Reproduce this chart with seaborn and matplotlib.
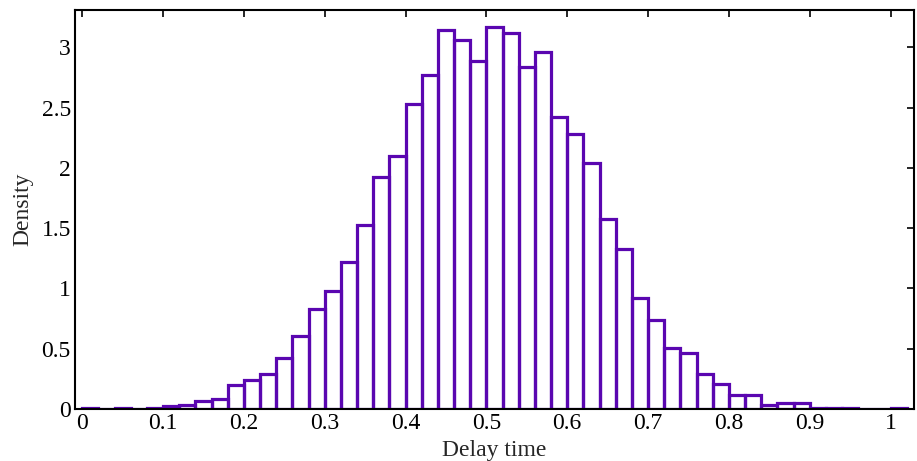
import numpy as np
import matplotlib
matplotlib.use("Agg")
import matplotlib.pyplot as plt
import seaborn as sns

# Bin edges (width 0.02) and density heights
bin_edges = [round(0.02 * i, 2) for i in range(52)]
densities = [
    0.010, 0.003, 0.010, 0.003, 0.010, 0.022, 0.036, 0.069, 0.083, 0.196,
    0.243, 0.287, 0.426, 0.608, 0.829, 0.978, 1.219, 1.528, 1.924, 2.100,
    2.529, 2.772, 3.140, 3.062, 2.888, 3.167, 3.120, 2.833, 2.960, 2.421,
    2.280, 2.040, 1.578, 1.329, 0.920, 0.735, 0.506, 0.464, 0.287, 0.210,
    0.116, 0.116, 0.036, 0.050, 0.050, 0.011, 0.011, 0.011, 0.001, 0.003,
    0.010,
]
bin_centers = [(bin_edges[i] + bin_edges[i + 1]) / 2 for i in range(len(densities))]
x_ticks = [0, 0.1, 0.2, 0.3, 0.4, 0.5, 0.6, 0.7, 0.8, 0.9, 1]
x_tick_labels = ["0", "0.1", "0.2", "0.3", "0.4", "0.5", "0.6", "0.7", "0.8", "0.9", "1"]
y_ticks = [0, 0.5, 1, 1.5, 2, 2.5, 3]
y_tick_labels = ["0", "0.5", "1", "1.5", "2", "2.5", "3"]

sns.set_style("white")
plt.rcParams["font.family"] = ["Liberation Serif", "DejaVu Serif"]

fig = plt.figure(figsize=(9.17, 4.61), dpi=100)
ax = fig.add_axes([75 / 917, 1 - 409 / 461, (914 - 75) / 917, (409 - 10) / 461])

sns.histplot(x=bin_centers, weights=densities, bins=bin_edges, stat="count",
             element="bars", fill=False, color="#5a06b0", linewidth=2.3,
             ax=ax)

ax.set_xlim(-0.009, 1.029)
ax.set_ylim(0, 3.31)
ax.set_xticks(x_ticks)
ax.set_xticklabels(x_tick_labels)
ax.set_yticks(y_ticks)
ax.set_yticklabels(y_tick_labels)
ax.tick_params(direction="in", length=5, width=1.2, top=True, right=True,
               labelsize=17, colors="black", pad=3)
ax.set_xlabel("Delay time", fontsize=17, labelpad=4)
ax.set_ylabel("Density", fontsize=17, labelpad=6)
for s in ax.spines.values():
    s.set_visible(True)
    s.set_linewidth(1.5)
    s.set_color("black")

fig.savefig("out.png", dpi=100)
